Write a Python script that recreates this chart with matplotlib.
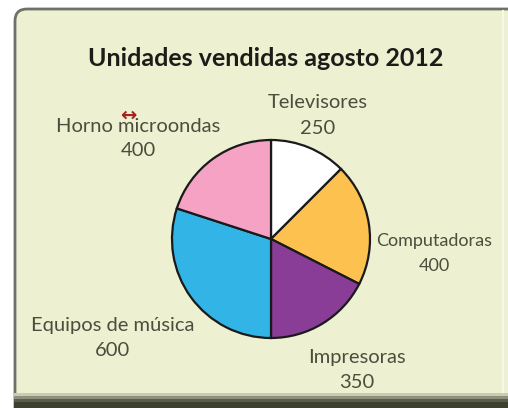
import matplotlib.pyplot as plt
from matplotlib.patches import FancyBboxPatch, Rectangle

# Unidades vendidas por producto, agosto 2012
productos = ["Televisores", "Computadoras", "Impresoras",
             "Equipos de música", "Horno microondas"]
unidades = [250, 400, 350, 600, 400]
colores = ["#ffffff", "#fcc14f", "#8a3d96", "#33b4e6", "#f6a2c4"]

# where each label sits (pixel coords, y measured from the top) and its size
etiqueta_xy = [(318, 103), (434, 241), (357, 358), (113, 325), (138, 126)]
etiqueta_pt = [14.5, 13, 14.5, 14.5, 14.5]

W, H = 508, 408
fig = plt.figure(figsize=(W / 100, H / 100), dpi=100)
fig.patch.set_facecolor("white")
ax = fig.add_axes([0, 0, 1, 1])

# rounded panel behind the chart, running off the right edge
panel = FancyBboxPatch((15, -20), 520, H + 11, boxstyle="round,pad=0,rounding_size=12",
                       facecolor="#edf0d1", edgecolor="#6e706a", linewidth=2, zorder=1)
ax.add_patch(panel)
ax.plot([503, 503], [12, H - 11], color="#f7f8ea", linewidth=1.5, zorder=1.2)
# dark shadow along the bottom edge
for i, c in enumerate(["#c9ccb0", "#8d907a", "#5a5d48", "#3d402f", "#3d402f"]):
    ax.add_patch(Rectangle((14, 12 - 3 * i), W, 3, facecolor=c, edgecolor="none", zorder=1.5))
ax.add_patch(Rectangle((14, 0), W, 3, facecolor="#3d402f", edgecolor="none", zorder=1.5))

ax.text(266, H - 58, "Unidades vendidas agosto 2012", ha="center", va="center",
        fontsize=18, fontweight="bold", family="Lato", color="#1c1c18", zorder=3)

ax.pie(unidades, colors=colores, startangle=90, counterclock=False,
       center=(271, H - 239), radius=99, frame=True,
       wedgeprops=dict(edgecolor="#1a1a1a", linewidth=1.6, zorder=2))
ax.set_xlim(0, W)
ax.set_ylim(0, H)
ax.set_aspect("equal")
ax.axis("off")

for nombre, valor, (x, y), pt in zip(productos, unidades, etiqueta_xy, etiqueta_pt):
    ax.text(x, H - y, nombre, ha="center", va="center", fontsize=pt,
            family="Lato", color="#4b4e3c", zorder=3)
    ax.text(x, H - y - 25, str(valor), ha="center", va="center", fontsize=pt,
            family="Lato", color="#4b4e3c", zorder=3)

# mouse cursor over "Horno"
ax.text(128, H - 115, "↔", ha="center", va="center", fontsize=14,
        fontweight="bold", family="DejaVu Sans", color="#a5231e", zorder=4)

fig.savefig("out.png", dpi=100)
